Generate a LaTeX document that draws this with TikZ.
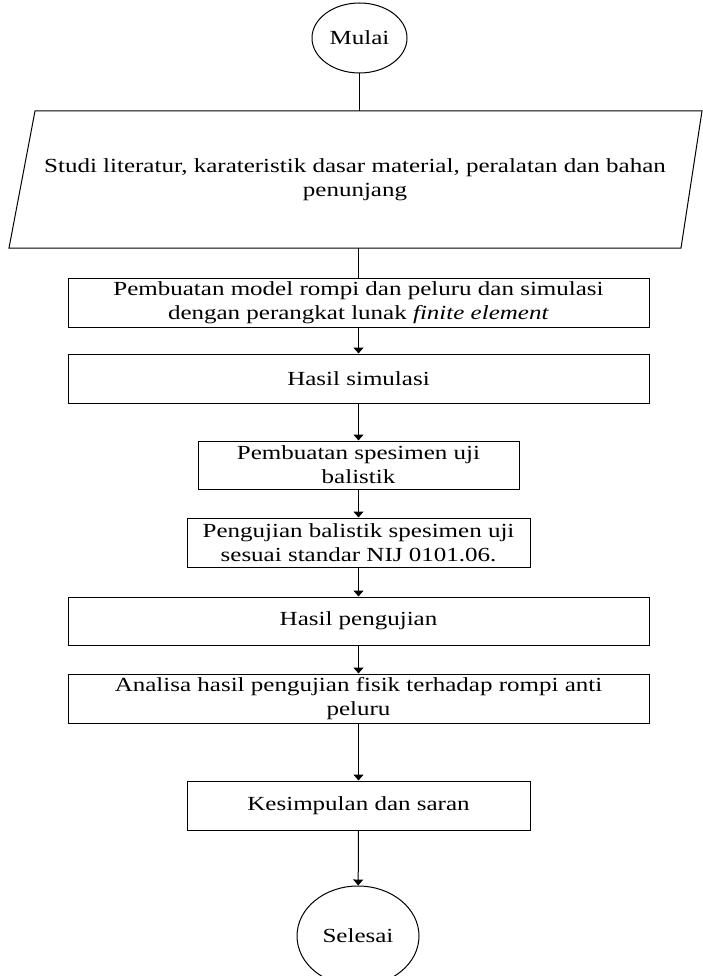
\documentclass[tikz,border=0pt]{standalone}
\usepackage{fontspec}
\setmainfont{Liberation Serif}[FakeStretch=1.25]
\usepackage{tikz}
\usetikzlibrary{shapes.geometric,arrows.meta}

\begin{document}
\begin{tikzpicture}[x=1pt,y=1pt,yscale=-1,xscale=1,
  line width=1pt,
  every node/.style={font=\fontsize{20}{24}\selectfont},
  terminal/.style={draw,ellipse,inner sep=0pt},
  prosesbox/.style={draw,rectangle,inner sep=0pt,align=center,minimum height=49},
  panah/.style={-{Triangle[width=10pt,length=6pt]}}]
\useasboundingbox (0,0) rectangle (703,976);

%Flowchart: Terminator
\node (mulai) at (359.5,38) [terminal,minimum width=95,minimum height=70] {Mulai};

%Flowchart: Data
\coordinate (studiTL) at (35,111);
\coordinate (studiTR) at (702,111);
\coordinate (studiBR) at (681,248);
\coordinate (studiBL) at (9,248);
\draw (studiTL) -- (studiTR) -- (studiBR) -- (studiBL) -- cycle ;
% Text Node
\node (studi) at (355,180) [align=center] {Studi literatur, karateristik dasar material, peralatan dan bahan\\penunjang};

%Flowchart: Process
\node (buatmodel) at (358.5,302.5) [prosesbox,minimum width=581] {Pembuatan model rompi dan peluru dan simulasi\\dengan perangkat lunak \textit{finite element}};
%Flowchart: Process
\node (hasilsim) at (358.5,378.5) [prosesbox,minimum width=581] {Hasil simulasi};
%Flowchart: Process
\node (buatspes) at (358.5,465) [prosesbox,minimum width=321,minimum height=48] {Pembuatan spesimen uji\\balistik};
%Flowchart: Process
\node (ujibal) at (358.5,542.5) [prosesbox,minimum width=343] {Pengujian balistik spesimen uji\\sesuai standar NIJ 0101.06.};
%Flowchart: Process
\node (hasiluji) at (358.5,621) [prosesbox,minimum width=581,minimum height=48] {Hasil pengujian};
%Flowchart: Process
\node (analisa) at (358.5,698.5) [prosesbox,minimum width=581] {Analisa hasil pengujian fisik terhadap rompi anti\\peluru};
%Flowchart: Process
\node (simpulan) at (358.5,805.5) [prosesbox,minimum width=343] {Kesimpulan dan saran};

%Flowchart: Terminator
\node (selesai) at (358,936) [terminal,minimum width=122,minimum height=100] {Selesai};

%Straight Lines
\draw (mulai) -- (mulai |- studiTL) ;
%Straight Lines
\draw (buatmodel.north |- studiBL) -- (buatmodel) ;
%Straight Lines
\draw [panah] (buatmodel) -- (hasilsim) ;
%Straight Lines
\draw [panah] (hasilsim) -- (buatspes) ;
%Straight Lines
\draw [panah] (buatspes) -- (ujibal) ;
%Straight Lines
\draw [panah] (ujibal) -- (hasiluji) ;
%Straight Lines
\draw [panah] (hasiluji) -- (analisa) ;
%Straight Lines
\draw [panah] (analisa) -- (simpulan) ;
%Straight Lines
\draw [panah] (simpulan) -- (selesai) ;

\end{tikzpicture}
\end{document}
